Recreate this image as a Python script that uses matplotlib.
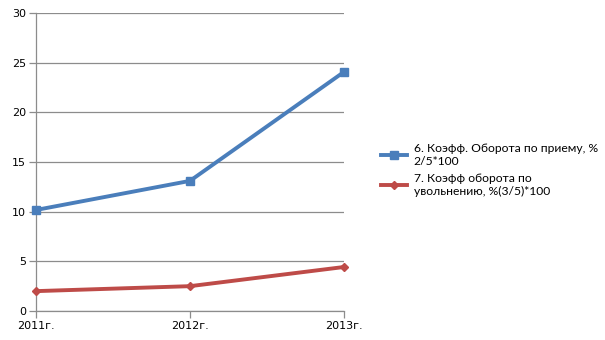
import matplotlib
matplotlib.use("Agg")
import matplotlib.pyplot as plt

years = ["2011г.", "2012г.", "2013г."]
hire_rate = [10.17, 13.1, 24.07]
fire_rate = [2.0, 2.5, 4.43]
labels = ["6. Коэфф. Оборота по приему, %\n2/5*100",
          "7. Коэфф оборота по\nувольнению, %(3/5)*100"]
yticks = [0, 5, 10, 15, 20, 25, 30]

fig = plt.figure(figsize=(6.05, 3.4), dpi=100)
ax = fig.add_axes([0.0595, 0.0853, 0.5091, 0.8765])
x = list(range(len(years)))
l1, = ax.plot(x, hire_rate, color="#4A7EBB", lw=2.8, marker="s", ms=6, zorder=3, clip_on=False)
l2, = ax.plot(x, fire_rate, color="#BE4B48", lw=2.8, marker="D", ms=4, zorder=3, clip_on=False)

ax.set_xlim(0, 2)
ax.set_ylim(0, 30)
ax.set_yticks(yticks)
ax.set_xticks(x)
ax.set_xticklabels(years)
ax.yaxis.grid(True, color="#8C8C8C", lw=0.9)
ax.set_axisbelow(True)
for s in ["top", "right"]:
    ax.spines[s].set_visible(False)
for s in ["left", "bottom"]:
    ax.spines[s].set_color("#8C8C8C")
    ax.spines[s].set_linewidth(0.9)
ax.tick_params(axis="both", colors="#8C8C8C", labelcolor="#000000", labelsize=8, length=5, width=0.9)
ax.tick_params(axis="y", pad=2)
ax.tick_params(axis="x", pad=2)

fig.legend([l1, l2], labels, loc="center left", bbox_to_anchor=(0.612, 0.5),
           frameon=False, prop={"family": "Lato", "size": 8.7}, handlelength=2.1,
           handletextpad=0.6, labelspacing=0.5)

fig.savefig("out.png", dpi=100)
